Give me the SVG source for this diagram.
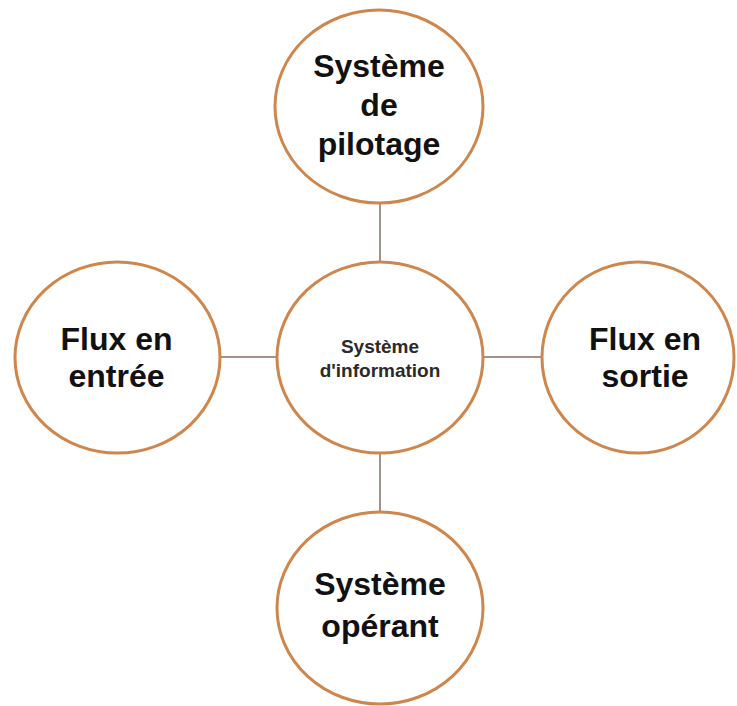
<svg xmlns="http://www.w3.org/2000/svg" width="737" height="706" viewBox="0 0 737 706">
  <style>
    .node { fill: #ffffff; stroke: #cf864c; stroke-width: 3; }
    .link { stroke: #a3918a; stroke-width: 2; fill: none; }
    .big { font-family: "Liberation Sans", Arial, sans-serif; font-weight: bold; font-size: 32px; fill: #111111; text-anchor: middle; }
    .small { font-family: "Liberation Sans", Arial, sans-serif; font-weight: bold; font-size: 19px; fill: #2a2a2a; text-anchor: middle; }
  </style>
  <rect width="737" height="706" fill="#ffffff"/>

  <!-- connectors between the central system and its neighbours -->
  <g id="connectors">
    <line class="link" x1="380" y1="203" x2="380" y2="262"/>
    <line class="link" x1="380" y1="453" x2="380" y2="512"/>
    <line class="link" x1="220" y1="357" x2="277" y2="357"/>
    <line class="link" x1="483" y1="357" x2="542" y2="357"/>
  </g>

  <g id="pilotage">
    <ellipse class="node" cx="379" cy="106.5" rx="104" ry="96.5"/>
    <text class="big" x="379" y="77">Système</text>
    <text class="big" x="379" y="116">de</text>
    <text class="big" x="379" y="155">pilotage</text>
  </g>

  <g id="information">
    <ellipse class="node" cx="380" cy="357.5" rx="103" ry="95.5"/>
    <text class="small" x="380" y="353">Système</text>
    <text class="small" x="380" y="377">d'information</text>
  </g>

  <g id="entree">
    <ellipse class="node" cx="117.5" cy="357.5" rx="102.5" ry="95.5"/>
    <text class="big" x="116.5" y="350">Flux en</text>
    <text class="big" x="116.5" y="387">entrée</text>
  </g>

  <g id="sortie">
    <ellipse class="node" cx="638" cy="357.5" rx="96" ry="95.5"/>
    <text class="big" x="645" y="350">Flux en</text>
    <text class="big" x="645" y="387">sortie</text>
  </g>

  <g id="operant">
    <ellipse class="node" cx="380" cy="608" rx="103" ry="96"/>
    <text class="big" x="380" y="595">Système</text>
    <text class="big" x="380" y="637">opérant</text>
  </g>
</svg>
